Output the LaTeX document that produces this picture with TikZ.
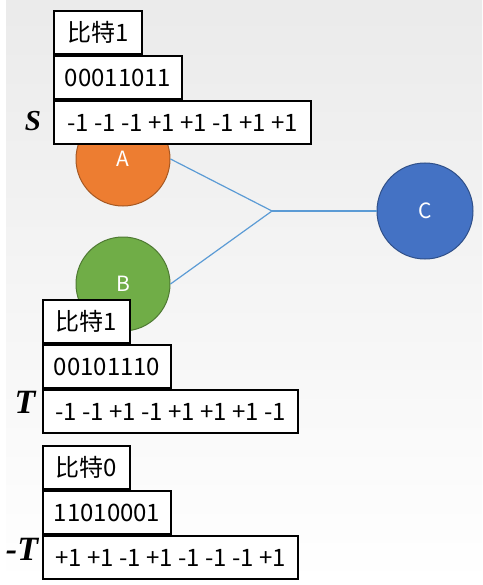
\documentclass[tikz,border=0pt]{standalone}
\usepackage{fontspec}
\usepackage{tikz}
\usetikzlibrary{positioning}
\newfontfamily\cjk{Noto Sans CJK SC}
\newfontfamily\tnr{Liberation Serif}
\definecolor{orangeA}{HTML}{ED7D31}
\definecolor{greenB}{HTML}{70AD47}
\definecolor{blueC}{HTML}{4472C4}
\definecolor{linkblue}{HTML}{5B9BD5}

\tikzset{
  bitbox/.style={draw, line width=2pt, fill=white, minimum height=43pt,
    inner sep=0pt, anchor=north west, font=\cjk\fontsize{24}{28}\selectfont},
  station/.style={circle, line width=1pt, minimum size=94pt, inner sep=0pt,
    text=white, font=\cjk\fontsize{21}{24}\selectfont},
  seqname/.style={font=\tnr\bfseries\itshape\fontsize{34}{38}\selectfont}
}

\begin{document}
\begin{tikzpicture} [x=1pt, y=-1pt]

\useasboundingbox (0,0) rectangle (482,585);
\shade[top color=black!8, bottom color=white, middle color=black!4] (6,0) rectangle (482,585);

\node [station, fill=orangeA, draw=orangeA!70!black] (A) at (123,159) {A};
\node [station, fill=greenB, draw=greenB!70!black] (B) at (123,284) {B};
\node [station, fill=blueC, draw=blueC!70!black, minimum size=96pt] (C) at (425,211) {C};
\coordinate (j) at (272,211);

\draw [linkblue, line width=1.2pt] (A.east) -- (j) -- (B.east);
\draw [linkblue, line width=1.2pt] (j) -- (C.west);

% S
\node [bitbox, minimum width=88pt] (s1) at (53,10) {比特1};
\node [bitbox, minimum width=128pt] (s2) at (s1.south west) {00011011};
\node [bitbox, minimum width=257pt] (s3) at (s2.south west) {-1 -1 -1 +1 +1 -1 +1 +1};
\node [seqname, font=\tnr\bfseries\itshape\fontsize{29}{32}\selectfont] (S) at (33,121) {S};

% T
\node [bitbox, minimum width=87pt] (t1) at (42,299) {比特1};
\node [bitbox, minimum width=128pt] (t2) at (t1.south west) {00101110};
\node [bitbox, minimum width=255pt] (t3) at (t2.south west) {-1 -1 +1 -1 +1 +1 +1 -1};
\node [seqname] (T) at (25,402) {T};

% -T
\node [bitbox, minimum width=87pt] (u1) at (42,445) {比特0};
\node [bitbox, minimum width=128pt] (u2) at (u1.south west) {11010001};
\node [bitbox, minimum width=255pt] (u3) at (u2.south west) {+1 +1 -1 +1 -1 -1 -1 +1};
\node [seqname] (mT) at (22,549) {-T};

\end{tikzpicture}
\end{document}
